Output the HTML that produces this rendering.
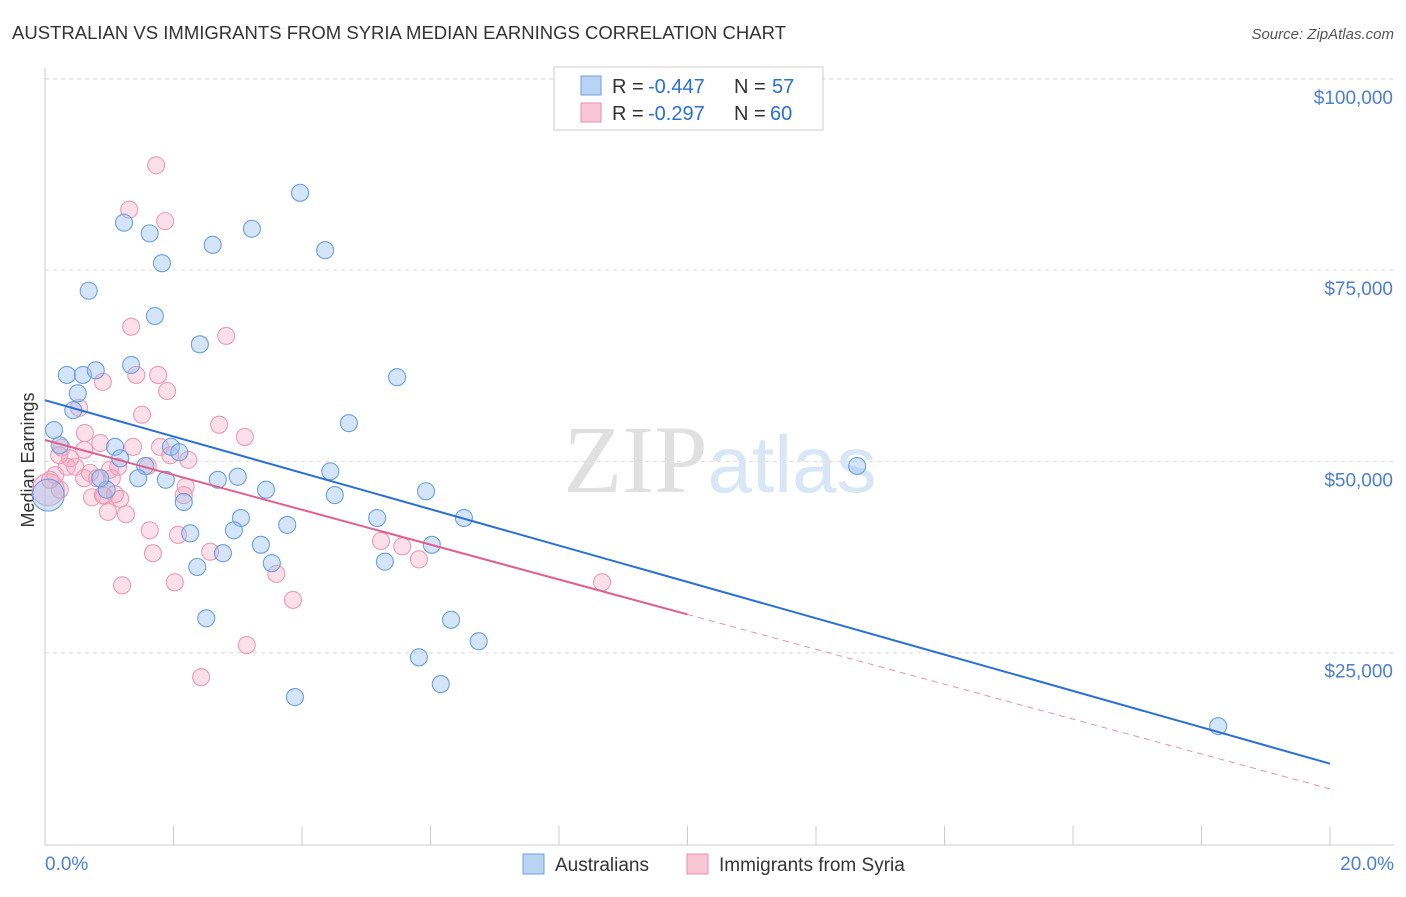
<!DOCTYPE html>
<html><head><meta charset="utf-8"><style>
body{margin:0;background:#fff;font-family:"Liberation Sans",sans-serif;}
svg text{font-family:"Liberation Sans",sans-serif;}
</style></head><body>
<svg id="chart" width="1406" height="892">
<text x="12" y="39" font-size="18.5" fill="#333" textLength="774">AUSTRALIAN VS IMMIGRANTS FROM SYRIA MEDIAN EARNINGS CORRELATION CHART</text>
<text x="1394" y="39" font-size="15" fill="#555" font-style="italic" text-anchor="end">Source: ZipAtlas.com</text>
<text x="34" y="460" font-size="18" fill="#333" text-anchor="middle" transform="rotate(-90 34 460)">Median Earnings</text>
<g id="grid"></g><g id="axes"></g>
<text x="720" y="492" font-size="96" fill="#ddd" text-anchor="middle" font-family="Liberation Serif"><tspan fill="#e0e0e0" font-family="Liberation Serif">ZIP</tspan><tspan fill="#d8e6f6" font-size="80" font-family="Liberation Sans">atlas</tspan></text>
<g id="marks"></g><g id="lines"></g>
<g>
<rect x="554" y="67" width="269" height="63" fill="#fff" stroke="#ccc"/>
<rect x="581" y="76" width="20" height="19" fill="#b9d3f5" stroke="#6fa0e0"/>
<text x="612" y="93" font-size="20" fill="#333">R =</text>
<text x="648" y="93" font-size="20" fill="#2a6fd6">-0.447</text>
<text x="734" y="93" font-size="20" fill="#333">N =</text>
<text x="772" y="93" font-size="20" fill="#2a6fd6">57</text>
<rect x="581" y="103" width="20" height="19" fill="#f9c6d6" stroke="#e890b0"/>
<text x="612" y="120" font-size="20" fill="#333">R =</text>
<text x="648" y="120" font-size="20" fill="#2a6fd6">-0.297</text>
<text x="734" y="120" font-size="20" fill="#333">N =</text>
<text x="770" y="120" font-size="20" fill="#2a6fd6">60</text>
</g>
<g>
<rect x="523" y="854" width="21" height="20" fill="#b9d3f5" stroke="#6fa0e0"/>
<text x="555" y="871" font-size="19" fill="#333">Australians</text>
<rect x="687" y="854" width="21" height="20" fill="#f9c6d6" stroke="#e890b0"/>
<text x="719" y="871" font-size="19" fill="#333">Immigrants from Syria</text>
</g>
</svg>
<script>
const yTicks=[25000,50000,75000,100000];
const yTickLabels=["$25,000","$50,000","$75,000","$100,000"];
const xTickLabels=["0.0%","20.0%"];
const blueX=[0.14,0.05,0.34,0.59,0.79,0.44,0.51,0.23,0.68,1.23,1.63,1.82,1.71,1.34,2.61,3.22,3.97,4.36,2.41,5.48,4.73,1.96,2.09,1.09,1.17,1.56,1.45,1.88,0.96,2.16,2.69,3.00,3.44,3.05,2.94,2.26,2.77,2.37,3.36,3.77,3.53,2.51,3.89,4.44,4.51,5.17,5.29,5.93,6.02,6.52,6.32,6.75,5.82,6.16,12.64,18.26,0.86];
const blueY=[54.1,45.6,61.3,61.3,61.9,56.7,58.9,52.1,72.3,81.2,79.8,75.9,69.0,62.6,78.3,80.4,85.1,77.6,65.3,61.0,55.0,51.9,51.2,51.9,50.4,49.4,47.8,47.6,46.3,44.7,47.6,48.0,46.3,42.6,41.0,40.6,38.0,36.2,39.1,41.7,36.7,29.5,19.2,48.7,45.6,42.6,36.9,46.1,39.1,42.6,29.3,26.5,24.4,20.9,49.4,15.4,47.8];
const pinkX=[1.73,1.31,1.87,1.34,2.82,0.90,1.42,1.76,1.90,0.53,1.51,2.71,3.11,0.86,1.37,1.79,0.62,0.26,0.39,0.34,0.47,0.70,1.01,1.14,1.60,1.95,2.23,0.16,0.23,0.61,0.81,1.04,0.73,0.92,1.17,1.09,0.98,1.26,2.16,2.19,1.63,2.07,1.68,2.57,1.20,2.02,3.60,3.86,3.14,2.43,5.23,5.56,5.82,8.67,0.05,0.08,0.61,0.90,0.22];
const pinkY=[88.7,82.9,81.4,67.6,66.4,60.4,61.3,61.3,59.2,57.0,56.1,54.8,53.2,52.4,51.9,51.9,53.7,51.8,50.4,49.3,49.3,48.5,48.9,49.3,49.4,50.8,50.2,48.2,46.3,47.8,47.8,47.8,45.3,45.5,45.1,45.7,43.4,43.1,45.6,46.7,41.0,40.4,38.0,38.2,33.8,34.2,35.3,31.9,26.0,21.8,39.6,38.9,37.2,34.2,46.3,47.6,51.5,45.6,50.8];
const blueLine=[58.0,10.5];
const pinkLine=[52.8,7.2];
const pinkSolidEnd=10;
const NS="http://www.w3.org/2000/svg";
const xs=v=>45+v*64.25, ys=v=>844-v*7.652;
function mk(t,a,p){const e=document.createElementNS(NS,t);for(const k in a)e.setAttribute(k,a[k]);p.appendChild(e);return e;}
const grid=document.getElementById('grid'),axes=document.getElementById('axes'),marks=document.getElementById('marks'),lines=document.getElementById('lines');
mk('line',{x1:45,y1:79,x2:1394,y2:79,stroke:'#ddd','stroke-dasharray':'4,4'},grid);
yTicks.forEach((t,i)=>{const y=ys(t/1000);
const l=mk('line',{x1:45,y1:y,x2:1394,y2:y,stroke:'#ddd','stroke-dasharray':'4,4'},grid);


const tx=mk('text',{x:1393,y:y+25,'font-size':19,fill:'#4a7fd4','text-anchor':'end'},axes);
tx.textContent=yTickLabels[i];

});
mk('line',{x1:45,y1:68,x2:45,y2:845,stroke:'#ccc'},axes);
mk('line',{x1:45,y1:845,x2:1394,y2:845,stroke:'#ccc'},axes);
for(let i=0;i<=20;i+=2){mk('line',{x1:xs(i),y1:826,x2:xs(i),y2:845,stroke:'#ccc'},axes);}
[[0,'start'],[20,'end']].forEach((d,i)=>{const tx=mk('text',{x:i?1394:45,y:870,'font-size':19,fill:'#4a7fd4','text-anchor':d[1]},axes);
tx.textContent=xTickLabels[i];

});
function pts(X,Y,fill,stroke,name){X.forEach((x,i)=>{const big=(x<0.1&&i<2)||(x<0.1&&name==='syria-point'&&Y[i]<47);
const c=mk('circle',{cx:xs(x),cy:ys(Y[i]),r:big?16:8.5,fill:fill,stroke:stroke,'stroke-width':1.1},marks);

});}
pts(pinkX,pinkY,'rgba(245,165,192,0.35)','#eb9ab8','syria-point');
pts(blueX,blueY,'rgba(150,190,240,0.4)','#6c9fe0','australians-point');
const bl=mk('line',{x1:xs(0),y1:ys(blueLine[0]),x2:xs(20),y2:ys(blueLine[1]),stroke:'#2a6fd6','stroke-width':2},lines);


const pAt=x=>pinkLine[0]+(pinkLine[1]-pinkLine[0])*x/20;
const pl=mk('line',{x1:xs(0),y1:ys(pAt(0)),x2:xs(pinkSolidEnd),y2:ys(pAt(pinkSolidEnd)),stroke:'#e0608a','stroke-width':2},lines);


const pd=mk('line',{x1:xs(pinkSolidEnd),y1:ys(pAt(pinkSolidEnd)),x2:xs(20),y2:ys(pAt(20)),stroke:'#e890b0','stroke-width':1,'stroke-dasharray':'6,5'},lines);


</script>
</body></html>
